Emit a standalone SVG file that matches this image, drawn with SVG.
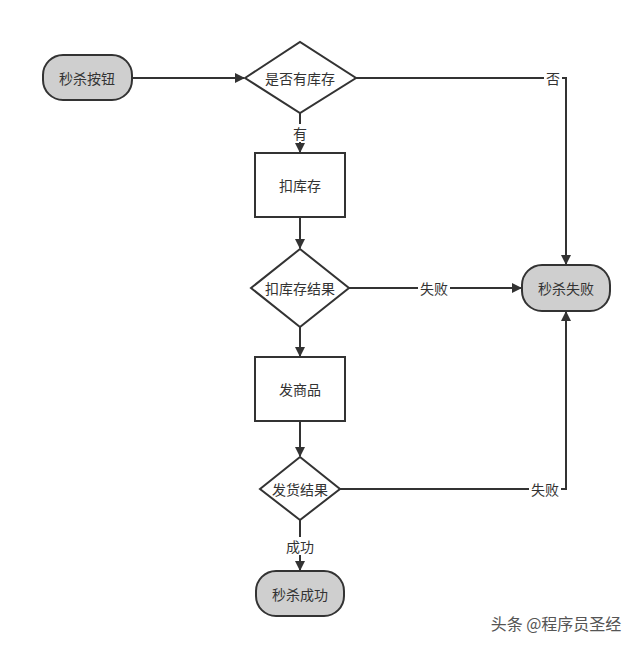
<svg xmlns="http://www.w3.org/2000/svg" width="640" height="645" viewBox="0 0 640 645">
<style>
text{font-family:"Noto Sans CJK SC","Liberation Sans",sans-serif;font-size:14px;fill:#333;text-anchor:middle;dominant-baseline:central}
.term{fill:#cfcfcf;stroke:#333;stroke-width:2}
.box{fill:#fff;stroke:#333;stroke-width:2}
.edge{fill:none;stroke:#333;stroke-width:2}
.lbl{fill:#fff}
</style>
<defs><marker id="a" markerWidth="10" markerHeight="10" refX="9" refY="5" orient="auto" markerUnits="userSpaceOnUse"><path d="M0,0 L10,5 L0,10 Z" fill="#333"/></marker></defs>
<rect width="640" height="645" fill="#fff"/>
<g id="connectors">
<path class="edge" d="M132,78 H244" marker-end="url(#a)"/>
<path class="edge" d="M356,78 H566 V264" marker-end="url(#a)"/>
<path class="edge" d="M300,113 V152" marker-end="url(#a)"/>
<path class="edge" d="M300,217 V248" marker-end="url(#a)"/>
<path class="edge" d="M349,288 H521" marker-end="url(#a)"/>
<path class="edge" d="M300,327 V356" marker-end="url(#a)"/>
<path class="edge" d="M300,421 V456" marker-end="url(#a)"/>
<path class="edge" d="M340,489 H566 V312" marker-end="url(#a)"/>
<path class="edge" d="M300,520 V570" marker-end="url(#a)"/>
<rect class="lbl" x="544" y="69" width="18" height="18"/><text x="553" y="78">否</text>
<rect class="lbl" x="291" y="124" width="18" height="18"/><text x="300" y="133">有</text>
<rect class="lbl" x="418" y="279" width="32" height="18"/><text x="434" y="288">失败</text>
<rect class="lbl" x="529" y="480" width="32" height="18"/><text x="545" y="489">失败</text>
<rect class="lbl" x="284" y="537" width="32" height="18"/><text x="300" y="546">成功</text>
</g>
<g id="start"><rect class="term" x="43" y="55" width="89" height="45" rx="20"/><text x="87" y="78">秒杀按钮</text></g>
<g id="check"><path class="box" d="M245,78 L300,42 L356,78 L300,113 Z"/><text x="300" y="78">是否有库存</text></g>
<g id="deduct"><rect class="box" x="255" y="153" width="90" height="64"/><text x="300" y="185">扣库存</text></g>
<g id="deductResult"><path class="box" d="M251,288 L300,249 L349,288 L300,327 Z"/><text x="300" y="288">扣库存结果</text></g>
<g id="fail"><rect class="term" x="522" y="265" width="88" height="46" rx="20"/><text x="566" y="288">秒杀失败</text></g>
<g id="ship"><rect class="box" x="255" y="357" width="90" height="64"/><text x="300" y="389">发商品</text></g>
<g id="shipResult"><path class="box" d="M260,489 L300,457 L340,489 L300,520 Z"/><text x="300" y="489">发货结果</text></g>
<g id="success"><rect class="term" x="256" y="571" width="88" height="45" rx="20"/><text x="300" y="594">秒杀成功</text></g>
<text x="556" y="623" style="font-size:16px;fill:#555">头条 @程序员圣经</text>
</svg>
